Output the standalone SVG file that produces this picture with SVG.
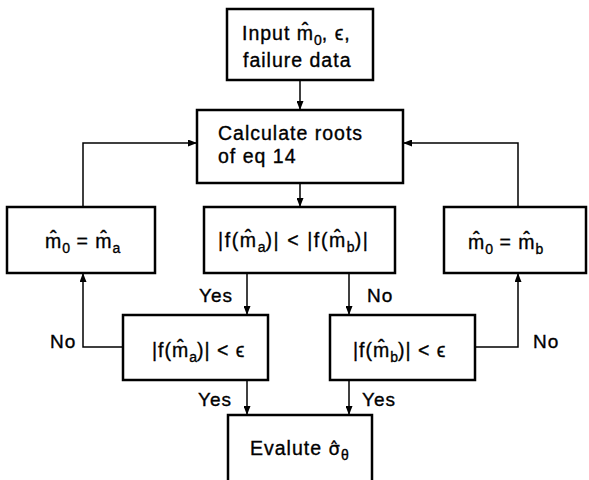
<svg xmlns="http://www.w3.org/2000/svg" width="589" height="480" viewBox="0 0 589 480">
<defs>
<style>
.box{fill:#fff;stroke:#000;stroke-width:2.5}
.ln{fill:none;stroke:#000;stroke-width:1.5}
text{font-family:"Liberation Sans","DejaVu Sans",sans-serif;font-size:19.5px;letter-spacing:1px;fill:#000;stroke:#000;stroke-width:0.35}
.sub{font-size:14px;letter-spacing:0}
.lbl{font-size:19px}
.wide{letter-spacing:1.6px}
.dv{font-family:"DejaVu Sans",sans-serif;font-size:18px}
</style>
<marker id="arr" viewBox="0 0 9 7" refX="9" refY="3.5" markerWidth="9" markerHeight="7" markerUnits="userSpaceOnUse" orient="auto">
<path d="M0,0 L9,3.5 L0,7 z" fill="#000"/>
</marker>
</defs>
<rect width="589" height="480" fill="#fff"/>
<g id="connectors">
<line class="ln" x1="300" y1="80" x2="300" y2="110" marker-end="url(#arr)"/>
<polyline class="ln" points="83,207 83,143 197,143" marker-end="url(#arr)"/>
<polyline class="ln" points="518,207 518,143 403,143" marker-end="url(#arr)"/>
<line class="ln" x1="300" y1="183" x2="300" y2="207" marker-end="url(#arr)"/>
<line class="ln" x1="247" y1="273" x2="247" y2="315" marker-end="url(#arr)"/>
<line class="ln" x1="349" y1="273" x2="349" y2="315" marker-end="url(#arr)"/>
<polyline class="ln" points="123,347 83,347 83,273" marker-end="url(#arr)"/>
<polyline class="ln" points="475,347 518,347 518,273" marker-end="url(#arr)"/>
<line class="ln" x1="247" y1="380" x2="247" y2="415" marker-end="url(#arr)"/>
<line class="ln" x1="349" y1="380" x2="349" y2="415" marker-end="url(#arr)"/>
<text class="lbl" x="199" y="302">Yes</text>
<text class="lbl" x="367" y="302">No</text>
<text class="lbl" x="50" y="348">No</text>
<text class="lbl" x="533" y="348">No</text>
<text class="lbl" x="198" y="406">Yes</text>
<text class="lbl" x="362" y="406">Yes</text>
</g>
<g id="input">
<rect class="box" x="227" y="9" width="146" height="71"/>
<text x="242" y="40">Input m̂<tspan class="sub" dy="5">0</tspan><tspan dy="-5">, ϵ,</tspan></text>
<text x="243" y="67">failure data</text>
</g>
<g id="calc">
<rect class="box" x="197" y="110" width="206" height="73"/>
<text x="218" y="140">Calculate roots</text>
<text x="218" y="163">of eq 14</text>
</g>
<g id="set-a">
<rect class="box" x="7" y="207" width="148" height="66"/>
<text x="45" y="248">m̂<tspan class="sub" dy="5">0</tspan><tspan dy="-5"> = m̂</tspan><tspan class="sub" dy="5">a</tspan></text>
</g>
<g id="compare">
<rect class="box" x="204" y="207" width="191" height="66"/>
<text class="wide" x="218" y="247">|f(m̂<tspan class="sub" dy="5">a</tspan><tspan dy="-5">)| &lt; |f(m̂</tspan><tspan class="sub" dy="5">b</tspan><tspan dy="-5">)|</tspan></text>
</g>
<g id="set-b">
<rect class="box" x="444" y="207" width="142" height="66"/>
<text x="468" y="249">m̂<tspan class="sub" dy="5">0</tspan><tspan dy="-5"> = m̂</tspan><tspan class="sub" dy="5">b</tspan></text>
</g>
<g id="test-a">
<rect class="box" x="123" y="315" width="145" height="65"/>
<text x="152" y="357">|f(m̂<tspan class="sub" dy="5">a</tspan><tspan dy="-5">)| &lt; ϵ</tspan></text>
</g>
<g id="test-b">
<rect class="box" x="330" y="315" width="145" height="65"/>
<text x="353" y="357">|f(m̂<tspan class="sub" dy="5">b</tspan><tspan dy="-5">)| &lt; ϵ</tspan></text>
</g>
<g id="evaluate">
<rect class="box" x="228" y="415" width="144" height="72"/>
<text x="250" y="455">Evalute <tspan class="dv">σ̂</tspan><tspan class="sub" dy="5">θ</tspan></text>
</g>
</svg>
